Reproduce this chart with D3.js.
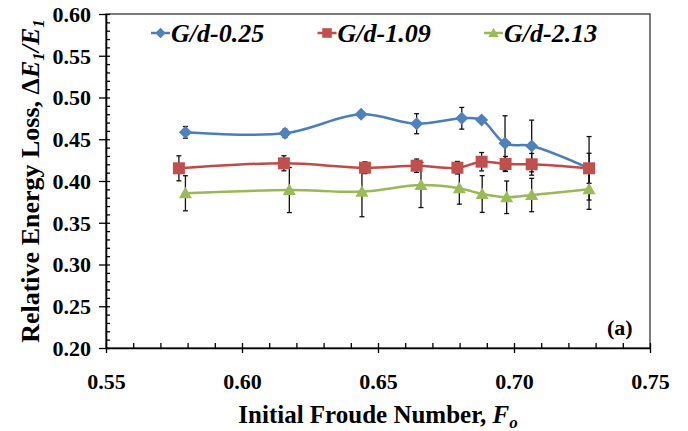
<!DOCTYPE html>
<html>
<head>
  <meta charset="UTF-8">
  <title>Relative Energy Loss vs Initial Froude Number</title>
  <script src="https://d3js.org/d3.v7.min.js"></script>
  <style>
    body { margin: 0; background: #fff; }
    text { font-family: "Liberation Serif", "Times New Roman", serif; font-weight: bold; }
  </style>
</head>
<body>
  <svg width="688" height="431"></svg>

  <script>
    // Series values
    const seriesNames = ["G/d-0.25", "G/d-1.09", "G/d-2.13"];

    const fo025 = [0.5792, 0.6158, 0.6438, 0.6642, 0.6808, 0.6881, 0.6967, 0.7065, 0.7276];
    const el025 = [0.4583, 0.4571, 0.4799, 0.4686, 0.4751, 0.4731, 0.4451, 0.4419, 0.4152];
    const err025 = [0.007, 0.005, 0.003, 0.012, 0.013, 0.003, 0.033, 0.031, 0.038];

    const fo109 = [0.5768, 0.6154, 0.6452, 0.6642, 0.6792, 0.6881, 0.6969, 0.7065, 0.7276];
    const el109 = [0.4152, 0.4212, 0.4159, 0.4183, 0.4159, 0.4231, 0.4204, 0.4200, 0.4152];
    const err109 = [0.015, 0.009, 0.007, 0.008, 0.0075, 0.011, 0.009, 0.013, 0.018];

    const fo213 = [0.5792, 0.6174, 0.6441, 0.6658, 0.6799, 0.6883, 0.6973, 0.7065, 0.7276];
    const el213 = [0.3853, 0.3892, 0.3872, 0.3952, 0.3913, 0.3844, 0.3805, 0.3832, 0.3901];
    const err213 = [0.021, 0.027, 0.030, 0.027, 0.019, 0.022, 0.0195, 0.020, 0.024];

    // Tick labels
    const xTicks = [0.55, 0.60, 0.65, 0.70, 0.75];
    const yTicks = [0.20, 0.25, 0.30, 0.35, 0.40, 0.45, 0.50, 0.55, 0.60];

    const lineColors = ["#4A7EBB", "#BE4B48", "#98B954"];
    const markerColors = ["#4F81BD", "#C0504D", "#9BBB59"];
    const shapes = ["diamond", "square", "triangle"];

    const series = [
      { x: fo025, y: el025, e: err025 },
      { x: fo109, y: el109, e: err109 },
      { x: fo213, y: el213, e: err213 }
    ].map((s, i) => ({
      name: seriesNames[i],
      line: lineColors[i],
      fill: markerColors[i],
      shape: shapes[i],
      pts: s.x.map((v, j) => ({ x: v, y: s.y[j], e: s.e[j] }))
    }));

    const margin = { top: 14, right: 38, bottom: 83, left: 106 };
    const width = 688 - margin.left - margin.right;
    const height = 431 - margin.top - margin.bottom;

    const root = d3.select("svg");
    const svg = root.append("g")
      .attr("transform", `translate(${margin.left}, ${margin.top})`);

    const x = d3.scaleLinear().domain([0.55, 0.75]).range([0, width]);
    const y = d3.scaleLinear().domain([0.20, 0.60]).range([height, 0]);

    // frame (top and right)
    svg.append("rect")
      .attr("width", width).attr("height", height)
      .attr("fill", "none").attr("stroke", "#333").attr("stroke-width", 1.3);

    // minor ticks, inside
    const xMinor = d3.range(55, 76).map(d => d / 100);
    const yMinor = d3.range(20, 61).map(d => d / 100);

    svg.append("g")
      .attr("transform", `translate(0, ${height})`)
      .call(d3.axisTop(x).tickValues(xMinor).tickSize(5).tickFormat(""))
      .call(g => g.select(".domain").remove())
      .call(g => g.selectAll("line").attr("stroke-width", 1.3));

    svg.append("g")
      .call(d3.axisRight(y).tickValues(yMinor).tickSize(4).tickFormat(""))
      .call(g => g.select(".domain").remove())
      .call(g => g.selectAll("line").attr("stroke-width", 1.3));

    // main axes
    const gx = svg.append("g")
      .attr("transform", `translate(0, ${height})`)
      .call(d3.axisBottom(x).tickValues(xTicks).tickSize(5).tickSizeOuter(0).tickFormat(d3.format(".2f")));
    gx.selectAll("text").attr("y", 41).attr("dy", null)
      .style("font-size", "22px").attr("fill", "#000");

    const gy = svg.append("g")
      .call(d3.axisLeft(y).tickValues(yTicks).tickSize(7).tickSizeOuter(0).tickFormat(d3.format(".2f")));
    gy.selectAll("text").attr("x", -15).attr("dy", "0.34em")
      .style("font-size", "22px").attr("fill", "#000");

    [gx, gy].forEach(g => {
      g.select(".domain").attr("stroke-width", 1.6);
      g.selectAll("line").attr("stroke-width", 1.3);
      g.attr("font-family", null).attr("font-size", null);
    });

    // marker symbols
    function marker(sel, shape, fill) {
      if (shape === "diamond") {
        sel.append("path").attr("d", "M0,-6.5L6.5,0L0,6.5L-6.5,0Z").attr("fill", fill);
      } else if (shape === "square") {
        sel.append("rect").attr("x", -6).attr("y", -6).attr("width", 12).attr("height", 12).attr("fill", fill);
      } else {
        sel.append("path").attr("d", "M0,-6.5L6.5,5L-6.5,5Z").attr("fill", fill);
      }
    }

    const line = d3.line()
      .x(d => x(d.x))
      .y(d => y(d.y))
      .curve(d3.curveCatmullRom.alpha(0.5));

    // lines
    series.forEach(s => {
      svg.append("path")
        .datum(s.pts)
        .attr("fill", "none")
        .attr("stroke", s.line)
        .attr("stroke-width", 2.5)
        .attr("d", line);
    });

    // error bars
    series.forEach(s => {
      const eb = svg.append("g").attr("stroke", "#111").attr("stroke-width", 1.3);
      eb.selectAll(".v").data(s.pts).join("line")
        .attr("x1", d => x(d.x)).attr("x2", d => x(d.x))
        .attr("y1", d => y(d.y + d.e)).attr("y2", d => y(d.y - d.e));
      eb.selectAll(".t").data(s.pts).join("line")
        .attr("x1", d => x(d.x) - 2.5).attr("x2", d => x(d.x) + 2.5)
        .attr("y1", d => y(d.y + d.e)).attr("y2", d => y(d.y + d.e));
      eb.selectAll(".b").data(s.pts).join("line")
        .attr("x1", d => x(d.x) - 2.5).attr("x2", d => x(d.x) + 2.5)
        .attr("y1", d => y(d.y - d.e)).attr("y2", d => y(d.y - d.e));
    });

    // markers on top
    series.forEach(s => {
      svg.append("g").selectAll("g")
        .data(s.pts)
        .join("g")
        .attr("transform", d => `translate(${x(d.x)}, ${y(d.y)})`)
        .each(function () { marker(d3.select(this), s.shape, s.fill); });
    });

    // legend
    const legend = svg.append("g").attr("transform", "translate(45, 19)");
    series.forEach((s, i) => {
      const item = legend.append("g").attr("transform", `translate(${i * 166.5}, 0)`);
      item.append("line")
        .attr("x1", 0).attr("x2", 19)
        .attr("stroke", s.line).attr("stroke-width", 2.5);
      marker(item.append("g").attr("transform", "translate(9.5, 0) scale(0.8)"), s.shape, s.fill);
      item.append("text")
        .attr("x", 20).attr("y", 9)
        .style("font-size", "26px").style("font-style", "italic")
        .text(s.name);
    });

    // panel label
    svg.append("text")
      .attr("x", 501).attr("y", 321)
      .style("font-size", "22px")
      .text("(a)");

    // x axis title
    const xt = svg.append("text")
      .attr("x", width / 2).attr("y", height + 75)
      .attr("text-anchor", "middle")
      .style("font-size", "25px");
    xt.append("tspan").text("Initial Froude Number, ");
    xt.append("tspan").style("font-style", "italic").text("F");
    xt.append("tspan").style("font-style", "italic").style("font-size", "17px").attr("dy", 5).text("o");

    // y axis title
    const yt = root.append("text")
      .attr("transform", `translate(39, ${margin.top + height / 2}) rotate(-90)`)
      .attr("text-anchor", "middle")
      .style("font-size", "26px");
    yt.append("tspan").text("Relative Energy Loss, ");
    yt.append("tspan").text("\u0394");
    yt.append("tspan").style("font-style", "italic").text("E");
    yt.append("tspan").style("font-style", "italic").style("font-size", "17px").attr("dy", 5).text("1");
    yt.append("tspan").style("font-style", "italic").attr("dy", -5).text("/E");
    yt.append("tspan").style("font-style", "italic").style("font-size", "17px").attr("dy", 5).text("1");
  </script>
</body>
</html>
